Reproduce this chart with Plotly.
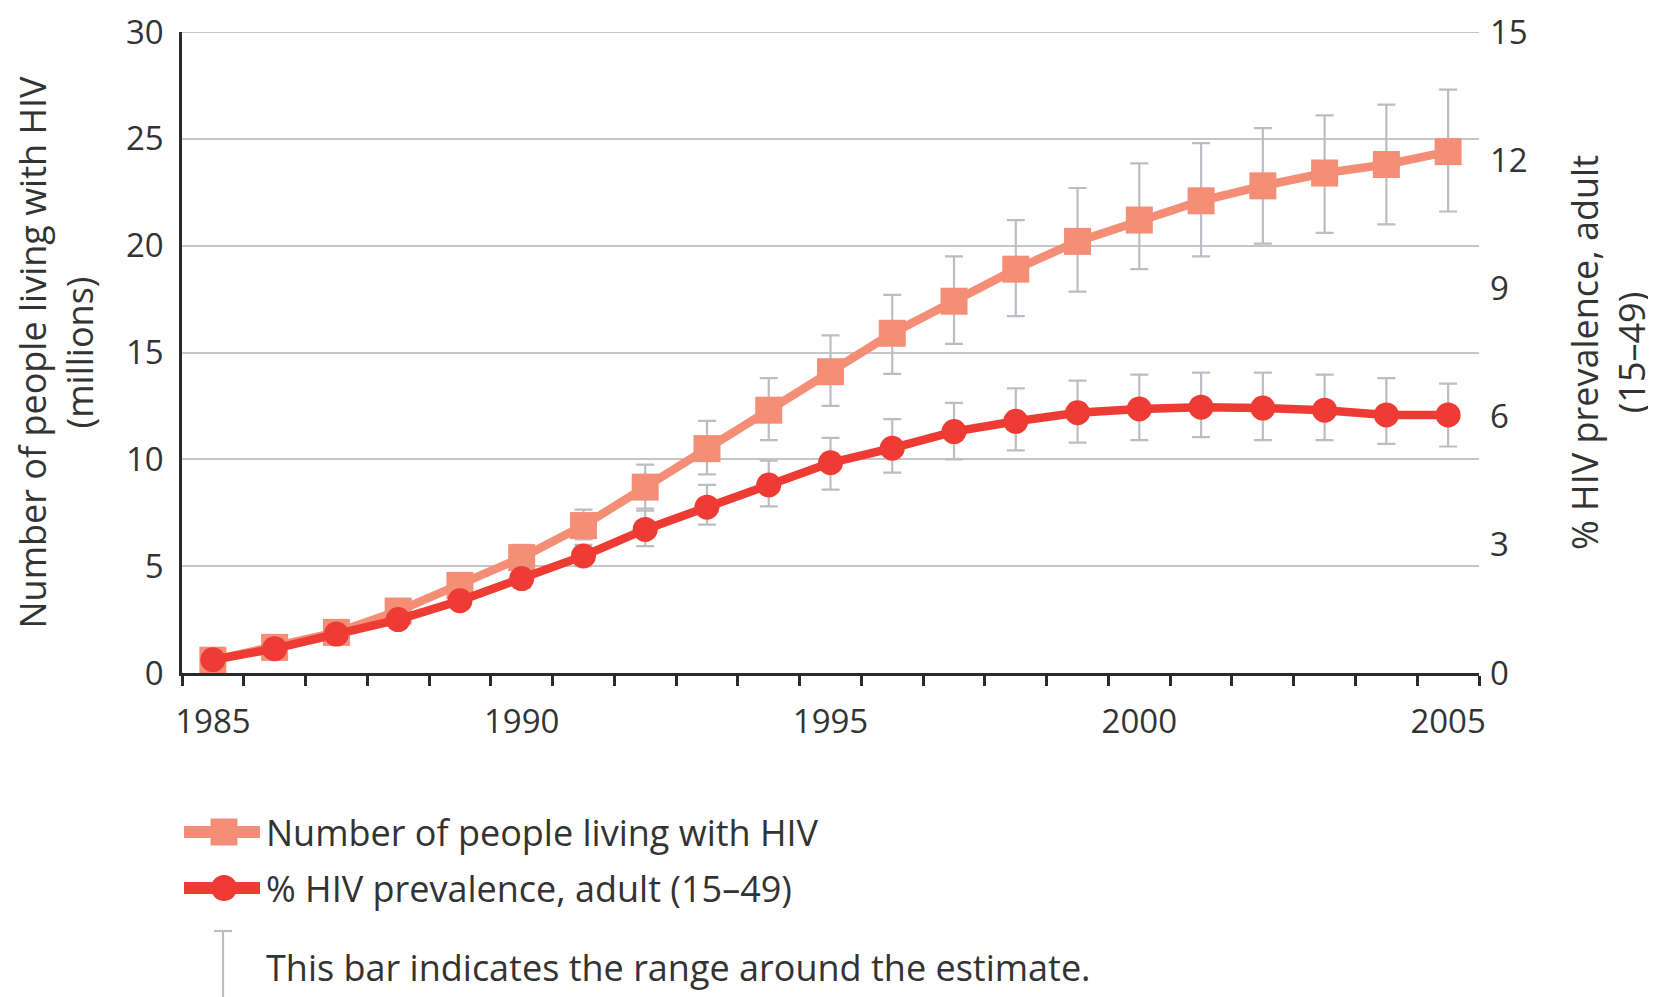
import plotly.graph_objects as go

years = list(range(1985, 2006))

people = [0.6, 1.2, 1.9, 2.9, 4.1, 5.4, 6.9, 8.7, 10.5, 12.3, 14.1, 15.9, 17.4, 18.9, 20.2, 21.2, 22.1, 22.8, 23.4, 23.8, 24.4]
people_low = [0.5, 1.0, 1.7, 2.6, 3.7, 4.9, 6.25, 7.6, 9.3, 10.9, 12.5, 14.0, 15.4, 16.7, 17.85, 18.9, 19.5, 20.1, 20.6, 21.0, 21.6]
people_high = [0.7, 1.4, 2.2, 3.2, 4.5, 6.0, 7.65, 9.75, 11.8, 13.8, 15.8, 17.7, 19.5, 21.2, 22.7, 23.85, 24.8, 25.5, 26.1, 26.6, 27.3]

prevalence = [0.31, 0.57, 0.91, 1.25, 1.69, 2.21, 2.74, 3.36, 3.88, 4.4, 4.92, 5.26, 5.65, 5.89, 6.09, 6.18, 6.22, 6.2, 6.15, 6.04, 6.04]
prev_low = [0.27, 0.5, 0.82, 1.12, 1.52, 2.0, 2.5, 2.97, 3.47, 3.9, 4.29, 4.69, 5.0, 5.21, 5.39, 5.45, 5.52, 5.45, 5.45, 5.36, 5.3]
prev_high = [0.35, 0.64, 1.0, 1.38, 1.86, 2.42, 3.0, 3.85, 4.4, 4.97, 5.5, 5.94, 6.32, 6.66, 6.84, 6.98, 7.03, 7.03, 6.98, 6.9, 6.77]

x_tick_labels = ["1985", "1990", "1995", "2000", "2005"]
x_tick_vals = [1985, 1990, 1995, 2000, 2005]

SALMON = "#F48E76"
RED = "#EE3B34"
ERR = "#BABDC2"
GRID = "#C6C6C6"
TXT = "#333333"
AXC = "#2a2a2a"
FONT = "Open Sans"
FS = 33      # tick labels
FT = 36      # titles and legend text

fig = go.Figure()

fig.add_trace(go.Scatter(
    x=years, y=people, mode="lines+markers", name="Number of people living with HIV",
    line=dict(color=SALMON, width=8.5),
    marker=dict(symbol="square", size=27, color=SALMON),
    error_y=dict(type="data", symmetric=False,
                 array=[h - v for h, v in zip(people_high, people)],
                 arrayminus=[v - l for v, l in zip(people, people_low)],
                 color=ERR, thickness=2.2, width=9),
    yaxis="y", showlegend=False,
))

fig.add_trace(go.Scatter(
    x=years, y=prevalence, mode="lines+markers", name="% HIV prevalence, adult (15–49)",
    line=dict(color=RED, width=8.5),
    marker=dict(symbol="circle", size=25, color=RED),
    error_y=dict(type="data", symmetric=False,
                 array=[h - v for h, v in zip(prev_high, prevalence)],
                 arrayminus=[v - l for v, l in zip(prevalence, prev_low)],
                 color=ERR, thickness=2.2, width=9),
    yaxis="y2", showlegend=False,
))

# page offset of the figure inside the html body (default 8px body margin)
OFF = 8
PAGE_W, PAGE_H = 1656, 997
W, H = PAGE_W - OFF, PAGE_H - OFF
# plot area in page pixels
PL, PR, PT, PB = 182, 1479, 32, 673
L = PL - OFF
T = PT - OFF
R = W - (PR - OFF)
B = H - (PB - OFF)
pw = PR - PL
ph = PB - PT

def px(xp):
    return (xp - PL) / pw

def py(yp):
    return (PB - yp) / ph

shapes = []
annotations = []

# top gridline (range edge)
shapes.append(dict(type="line", xref="paper", yref="y", x0=0, x1=1, y0=30, y1=30,
                   line=dict(color=GRID, width=2), layer="below"))

# legend entry 1
shapes.append(dict(type="line", xref="paper", yref="paper", x0=px(184), x1=px(260), y0=py(832), y1=py(832),
                   line=dict(color=SALMON, width=12)))
shapes.append(dict(type="rect", xref="paper", yref="paper", x0=px(210.5), x1=px(237.5), y0=py(845.5), y1=py(818.5),
                   fillcolor=SALMON, line=dict(width=0)))
# legend entry 2
shapes.append(dict(type="line", xref="paper", yref="paper", x0=px(184), x1=px(260), y0=py(888), y1=py(888),
                   line=dict(color=RED, width=12)))
shapes.append(dict(type="circle", xref="paper", yref="paper", x0=px(211), x1=px(237), y0=py(901), y1=py(875),
                   fillcolor=RED, line=dict(width=0)))
# error bar legend
shapes.append(dict(type="line", xref="paper", yref="paper", x0=px(223), x1=px(223), y0=py(931), y1=py(1000),
                   line=dict(color=ERR, width=2.2)))
shapes.append(dict(type="line", xref="paper", yref="paper", x0=px(214), x1=px(232), y0=py(931), y1=py(931),
                   line=dict(color=ERR, width=2.2)))

for txt, yy in [("Number of people living with HIV", 832), ("% HIV prevalence, adult (15–49)", 888),
                ("This bar indicates the range around the estimate.", 967)]:
    annotations.append(dict(text=txt, xref="paper", yref="paper", x=px(264), y=py(yy), xanchor="left",
                            yanchor="middle", showarrow=False, font=dict(family=FONT, size=FT, color=TXT)))

fig.update_layout(
    width=W, height=H,
    margin=dict(l=L, r=R, t=T, b=B, pad=0, autoexpand=False),
    plot_bgcolor="white", paper_bgcolor="white",
    font=dict(family=FONT, size=FS, color=TXT),
    shapes=shapes, annotations=annotations,
    xaxis=dict(range=[1984.5, 2005.5], tickvals=x_tick_vals, ticktext=x_tick_labels,
               ticks="", showgrid=False, zeroline=False, ticklabelstandoff=18, automargin=False,
               showline=True, linecolor=AXC, linewidth=2.5,
               tickfont=dict(family=FONT, size=FS, color=TXT),
               minor=dict(tick0=1984.5, dtick=1, ticks="outside", ticklen=10, tickwidth=2.5,
                          tickcolor=AXC, showgrid=False)),
    yaxis=dict(range=[0, 30], dtick=5, showgrid=True, gridcolor=GRID, gridwidth=2,
               zeroline=False, showline=True, linecolor=AXC, linewidth=2.5, automargin=False,
               ticks="", ticklabelstandoff=9,
               tickfont=dict(family=FONT, size=FS, color=TXT),
               title=dict(text="Number of people living with HIV<br>(millions)",
                          font=dict(family=FONT, size=FT, color=TXT), standoff=24)),
    yaxis2=dict(range=[0, 15], dtick=3, overlaying="y", side="right", showgrid=False, automargin=False,
                zeroline=False, showline=False, ticks="", ticklabelstandoff=10,
                tickfont=dict(family=FONT, size=FS, color=TXT),
                title=dict(text="% HIV prevalence, adult<br>(15–49)",
                           font=dict(family=FONT, size=FT, color=TXT), standoff=50)),
)

fig.write_html("out.html")
